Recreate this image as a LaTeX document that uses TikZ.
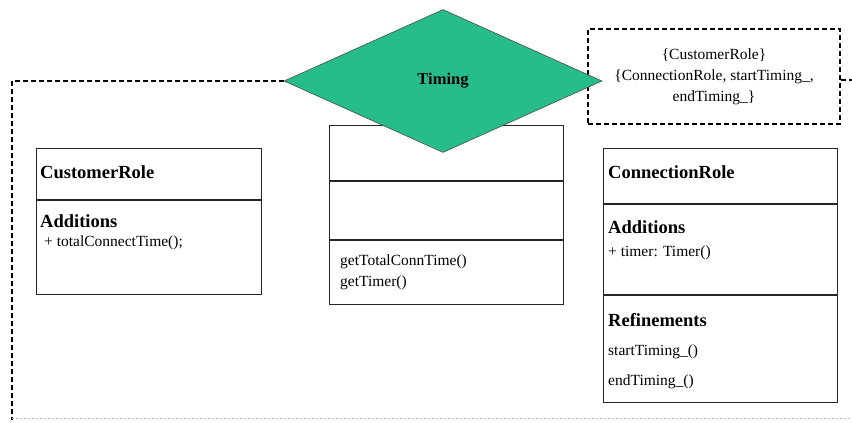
\documentclass[tikz,border=0pt]{standalone}
\usepackage{fontspec}
\setmainfont{Liberation Serif}
\usetikzlibrary{shapes.geometric}
\definecolor{timinggreen}{RGB}{38,188,140}
\tikzset{
  compartment/.style={rectangle, draw=black!85, line width=1pt, anchor=north west, inner sep=0pt},
  frameline/.style={draw=black, line width=2pt, dash pattern=on 5pt off 3pt},
  classname/.style={font=\fontsize{18.5}{22}\selectfont\bfseries, anchor=west, inner sep=0pt},
  member/.style={font=\fontsize{15.5}{20}\selectfont, anchor=west, inner sep=0pt},
}

\begin{document}
\begin{tikzpicture}[x=1pt,y=-1pt]
    \useasboundingbox (0,0) rectangle (852,423);

    % Corners of the aspect frame
    \coordinate (frameTL) at (12,81);
    \coordinate (frameBL) at (12,420);
    \coordinate (frameBR) at (852,418);
    \coordinate (frameTR) at (852,80);

    % Class CustomerRole
    \node[compartment, minimum width=225pt, minimum height=51pt] (custHead) at (36,148) {};
    \node[compartment, minimum width=225pt, minimum height=94pt] (custAdd) at (custHead.south west) {};
    \node[classname] (custName) at (40,172) {CustomerRole};
    \node[classname] (custAddTitle) at (40,221) {Additions};
    \node[member] (custTotal) at (44,243) {+ totalConnectTime();};

    % Middle class (under the diamond)
    \node[compartment, minimum width=234pt, minimum height=55pt] (timerHead) at (329,125) {};
    \node[compartment, minimum width=234pt, minimum height=58pt] (timerAttr) at (timerHead.south west) {};
    \node[compartment, minimum width=234pt, minimum height=64pt] (timerOps) at (timerAttr.south west) {};
    \node[member] (timerTotal) at (340,262) {getTotalConnTime()};
    \node[member] (timerGet) at (340,283) {getTimer()};

    % Class ConnectionRole
    \node[compartment, minimum width=234pt, minimum height=55pt] (connHead) at (603,148) {};
    \node[compartment, minimum width=234pt, minimum height=90pt] (connAdd) at (connHead.south west) {};
    \node[compartment, minimum width=234pt, minimum height=107pt] (connRef) at (connAdd.south west) {};
    \node[classname] (connName) at (608,172) {ConnectionRole};
    \node[classname] (connAddTitle) at (608,227) {Additions};
    \node[member] (connTimer) at (608,253) {+ timer: Timer()};
    \node[classname] (connRefTitle) at (608,320) {Refinements};
    \node[member] (connStart) at (608,352) {startTiming\_()};
    \node[member] (connEnd) at (608,382) {endTiming\_()};

    % Dashed box with the bindings
    \node[frameline, rectangle, anchor=north west, minimum width=252pt, minimum height=95pt,
          inner sep=0pt, align=center, font=\fontsize{15.5}{21}\selectfont] (ruleBox) at (587,28)
          {\{CustomerRole\}\\\{ConnectionRole, startTiming\_,\\endTiming\_\}};

    % Aspect frame
    \draw[frameline] (frameTL) -- (frameBL);
    \draw[frameline] (ruleBox.east |- frameTR) -- (frameTR);
    \draw[black!25, line width=1pt, dash pattern=on 2pt off 2pt] (frameBL |- frameBR) -- (frameBR);

    % Diamond Timing
    \node[diamond, fill=timinggreen, draw=black!70, line width=0.6pt, minimum width=318pt, minimum height=143pt,
          inner sep=0pt, font=\fontsize{16.5}{20}\selectfont\bfseries] (timing) at (443,81) {Timing};
    \draw[frameline] (timing.west) -- (frameTL);

\end{tikzpicture}
\end{document}
